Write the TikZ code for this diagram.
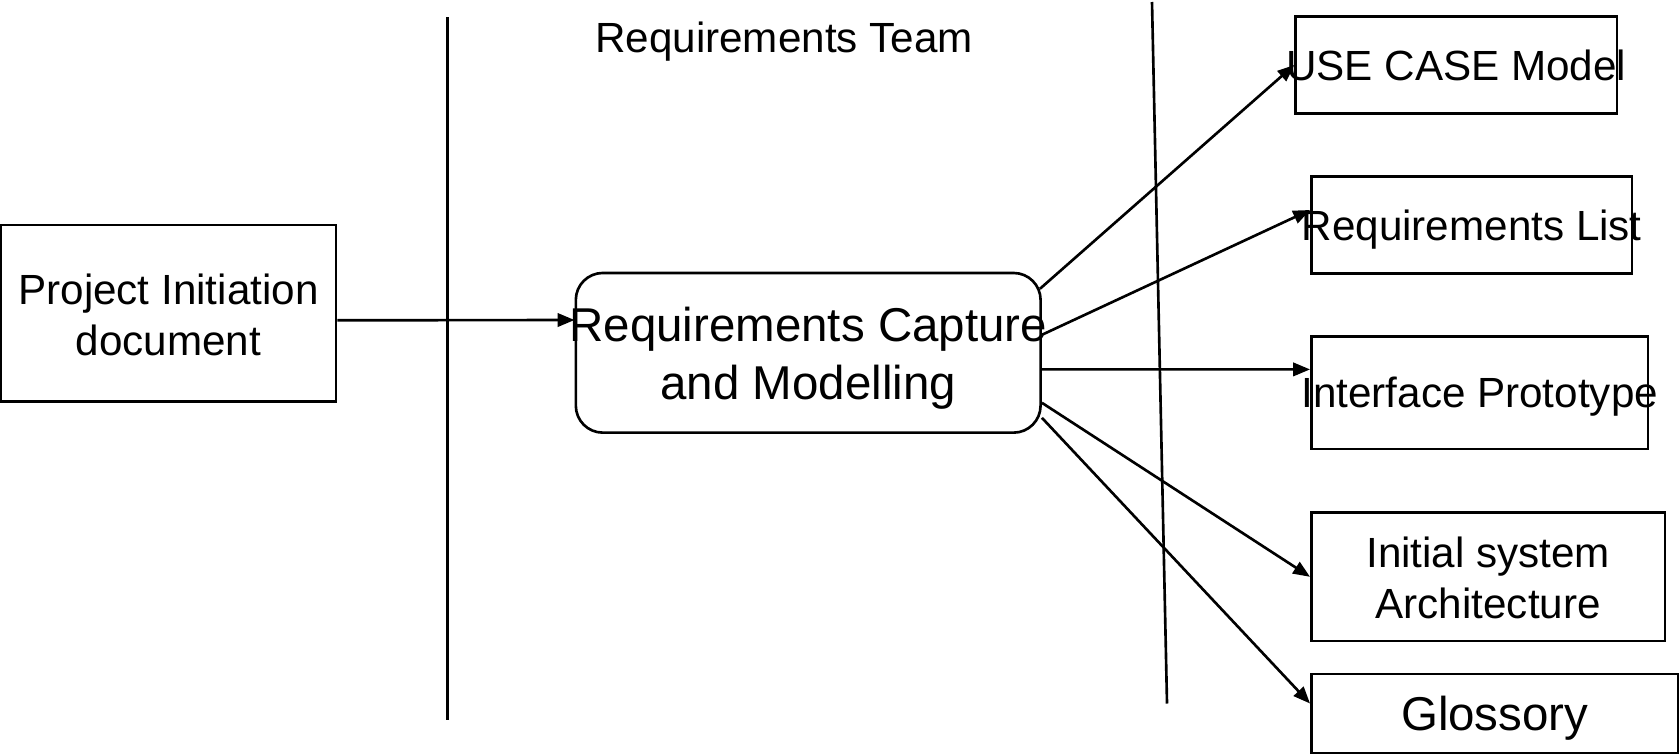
\documentclass[tikz,border=0pt]{standalone}
\usepackage{fontspec}
\setmainfont{Liberation Sans}
\usetikzlibrary{arrows.meta,calc}
\newcommand\onel[1]{\makebox[0pt]{#1}}
\newcommand\twol[2]{\makebox[0pt]{\raisebox{-0.064cm}[\height][\depth]{\begin{tabular}{@{}c@{}}#1\\#2\end{tabular}}}}
\begin{document}
\begin{tikzpicture}[x=0.01cm,y=-0.01cm,
  box/.style={draw, line width=0.75pt, inner sep=0pt, font=\fontsize{12}{14.5}\selectfont},
  bigtext/.style={font=\fontsize{13.5}{16.4}\selectfont},
  one/.style={text height=8.6pt, text depth=0pt},
  onebig/.style={text height=9.7pt, text depth=0pt},
  arr/.style={-{Triangle[length=4.8pt,width=3.8pt]}, line width=0.75pt},
  divider/.style={line width=0.75pt}]
\useasboundingbox (0,0) rectangle (1679,754);
% dividers
\coordinate (d1a) at (447.6,17);
\coordinate (d1b) at (447.6,720);
\coordinate (d2a) at (1152,2);
\coordinate (d2b) at (1167,703.5);
\draw[divider] (d1a) -- (d1b);
\draw[divider] (d2a) -- (d2b);
% title
\node[font=\fontsize{12}{14.5}\selectfont, inner sep=0pt, one] (team) at (784,37.5) {Requirements Team};
% boxes
\node[box, minimum width=3.35cm, minimum height=1.765cm] (proj) at (168.5,313.3)
  {\twol{Project Initiation}{document}};
\node[box, bigtext, rounded corners=0.27cm, minimum width=4.645cm, minimum height=1.596cm] (cap) at (808.2,352.8)
  {\twol{Requirements Capture}{and Modelling}};
\node[box, one, minimum width=3.21cm, minimum height=0.966cm] (uc) at (1456.2,65) {\onel{USE CASE Model}};
\node[box, one, minimum width=3.205cm, minimum height=0.966cm] (rl) at (1471.7,225) {\onel{Requirements List}};
\node[box, one, minimum width=3.365cm, minimum height=1.123cm] (ip) at (1479.7,392.8) {\onel{Interface Prototype}};
\node[box, minimum width=3.535cm, minimum height=1.285cm] (isa) at (1488.2,576.8) {\twol{Initial system}{Architecture}};
\node[box, bigtext, onebig, minimum width=3.665cm, minimum height=0.79cm] (gl) at (1494.7,713.5) {\onel{Glossory}};
% connectors
\draw[arr] ($(proj.east)+(0,7)$) -- ($(cap.west)+(0,-32.8)$);
\draw[arr] ($(cap.east)+(-2,-64)$) -- (uc.west);
\draw[arr] ($(cap.east)+(0,-18)$) -- ($(rl.west)+(0,-15)$);
\draw[arr] ($(cap.east)+(0,16.6)$) -- ($(ip.west)+(0,-23.4)$);
\draw[arr] ($(cap.east)+(0,50)$) -- (isa.west);
\draw[arr] ($(cap.east)+(0,65)$) -- ($(gl.west)+(0,-10)$);
\end{tikzpicture}
\end{document}
